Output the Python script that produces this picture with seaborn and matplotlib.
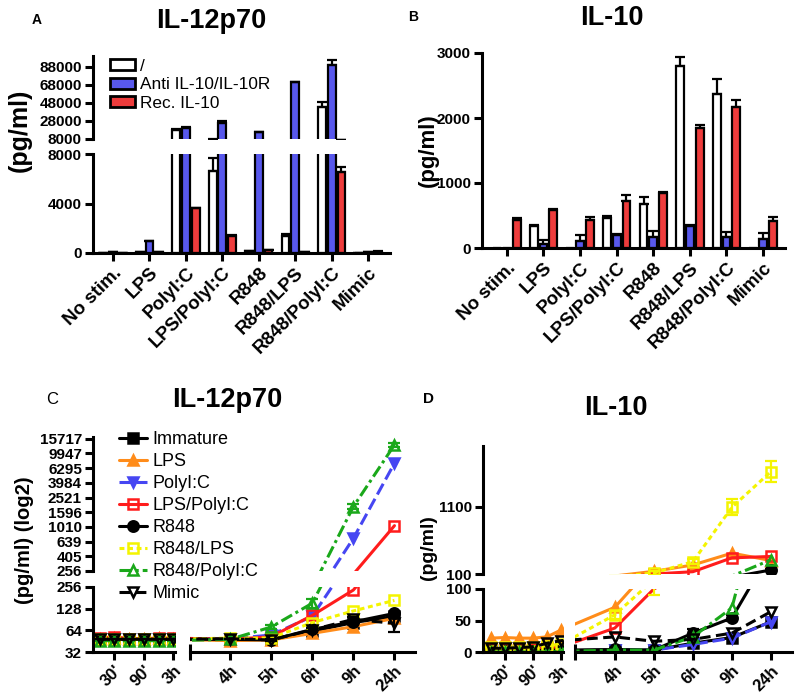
import numpy as np
import pandas as pd
import matplotlib
matplotlib.use('Agg')
import matplotlib.pyplot as plt
from matplotlib.patches import Patch
import seaborn as sns

sns.set_style('ticks')
plt.rcParams['font.family'] = ['Liberation Sans', 'DejaVu Sans']
plt.rcParams['font.weight'] = 'bold'
plt.rcParams['axes.linewidth'] = 2.2
for k in ['text.color', 'axes.edgecolor', 'axes.labelcolor', 'xtick.color', 'ytick.color']:
    plt.rcParams[k] = 'black'

# ---------------- data ----------------
stims = ['No stim.', 'LPS', 'PolyI:C', 'LPS/PolyI:C', 'R848', 'R848/LPS', 'R848/PolyI:C', 'Mimic']
treatments = ['/', 'Anti IL-10/IL-10R', 'Rec. IL-10']

# A: IL-12p70 (pg/ml)
il12_none = [30, 100, 18200, 6650, 150, 1400, 43600, 30]
il12_anti = [60, 950, 20700, 25500, 15300, 70900, 89800, 50]
il12_rec = [20, 50, 3600, 1350, 250, 100, 6540, 120]
il12_none_err = [10, 20, 600, 1000, 30, 100, 5000, 10]
il12_anti_err = [10, 60, 500, 2500, 400, 600, 6000, 10]
il12_rec_err = [10, 10, 50, 80, 30, 20, 400, 40]

# B: IL-10 (pg/ml)
il10_none = [0, 337, 0, 456, 673, 2795, 2374, 0]
il10_anti = [0, 62, 104, 207, 170, 333, 170, 144]
il10_rec = [425, 580, 430, 730, 840, 1846, 2170, 420]
il10_none_err = [0, 10, 0, 30, 110, 150, 220, 0]
il10_anti_err = [0, 60, 100, 10, 90, 20, 80, 80]
il10_rec_err = [40, 20, 50, 80, 20, 40, 100, 50]

# C / D: time course
time_labels = ['', "30'", '', "90'", '', '3h', '4h', '5h', '6h', '9h', '24h']
series = ['Immature', 'LPS', 'PolyI:C', 'LPS/PolyI:C', 'R848', 'R848/LPS', 'R848/PolyI:C', 'Mimic']

c_immature = [48, 48, 48, 48, 48, 48, 48, 48, 62, 82, 100]
c_lps = [48, 50, 48, 48, 50, 48, 46, 47, 58, 72, 94]
c_polyic = [48, 48, 48, 48, 48, 48, 49, 55, 100, 709, 7340]
c_lps_polyic = [50, 52, 49, 49, 50, 50, 48, 52, 103, 232, 1050]
c_r848 = [48, 48, 48, 48, 48, 48, 48, 47, 66, 84, 110]
c_r848_lps = [48, 48, 48, 48, 48, 48, 50, 50, 82, 119, 167]
c_r848_polyic = [46, 46, 46, 46, 46, 46, 48, 71, 152, 1900, 13000]
c_mimic = [48, 48, 48, 48, 48, 48, 49, 47, 65, 91, 80]
c_r848_polyic_err = [0, 0, 0, 0, 0, 0, 0, 4, 20, 150, 900]
c_mimic_err = [0, 0, 0, 0, 0, 0, 0, 2, 5, 6, 20]

d_immature = [2, 2, 2, 2, 2, 2, 3, 3, 14, 23, 48]
d_lps = [22, 23, 22, 22, 24, 35, 71, 140, 234, 410, 300]
d_polyic = [2, 2, 2, 2, 2, 2, 3, 3, 12, 22, 48]
d_lps_polyic = [4, 4, 5, 5, 6, 8, 38, 100, 134, 340, 360]
d_r848 = [2, 2, 2, 2, 3, 3, 4, 3, 30, 54, 160]
d_r848_lps = [8, 8, 8, 8, 10, 12, 59, 115, 283, 1090, 1620]
d_r848_polyic = [0, 0, 0, 0, 0, 1, 3, 3, 24, 70, 310]
d_mimic = [6, 6, 7, 8, 14, 18, 24, 17, 20, 30, 64]
d_r848_lps_err = [0, 0, 0, 0, 0, 0, 6, 25, 40, 120, 150]
d_r848_err = [0, 0, 0, 0, 0, 0, 0, 0, 6, 4, 8]

# ---------------- styles ----------------
bar_colors = ['white', '#5858ec', '#ee3c3c']
line_colors = ['black', '#ff8c1a', '#4646f2', '#ff1c1c', 'black', '#f4f400', '#1aa81a', 'black']
line_styles = ['-', '-', (0, (4, 1.6)), '-', '-', (0, (1.6, 1.2)), (0, (4, 1.3, 1, 1.3)), (0, (3.5, 1.8))]
markers = ['s', '^', 'v', 's', 'o', 's', '^', 'v']
filled = [True, True, True, False, True, False, False, False]

fig = plt.figure(figsize=(8, 7), dpi=100)
W, H = 800, 700


def box(x0, y0, x1, y1):
    ax = fig.add_axes([x0 / W, 1 - y1 / H, (x1 - x0) / W, (y1 - y0) / H])
    ax.patch.set_visible(False)
    return ax


def style(ax, bottom=True):
    sns.despine(ax=ax, bottom=not bottom)
    ax.tick_params(width=2.2, length=6, labelsize=11, pad=2)
    if not bottom:
        ax.tick_params(axis='x', bottom=False, labelbottom=False)
    ax.set_xlabel('')
    ax.set_ylabel('')


def bars(ax, vals, errs):
    df = pd.DataFrame({'stim': stims * 3,
                       'treat': np.repeat(treatments, len(stims)),
                       'val': np.concatenate(vals)})
    sns.barplot(data=df, x='stim', y='val', hue='treat', order=stims, hue_order=treatments,
                palette=bar_colors, saturation=1, edgecolor='black', linewidth=1.6,
                width=0.8, gap=0.2, errorbar=None, legend=False, ax=ax)
    for cont, e in zip(ax.containers, errs):
        for bar, ee in zip(cont, e):
            if ee > 0:
                ax.errorbar(bar.get_x() + bar.get_width() / 2, bar.get_height(),
                            yerr=[[0], [ee]], fmt='none', ecolor='black',
                            elinewidth=1.6, capsize=3.5, capthick=1.6)


# ---------------- panel A ----------------
a_up = box(93, 56, 390, 139)
a_lo = box(93, 154, 390, 253)
for ax in (a_up, a_lo):
    bars(ax, [il12_none, il12_anti, il12_rec], [il12_none_err, il12_anti_err, il12_rec_err])
    ax.set_xlim(-0.55, 7.6)
a_up.set_ylim(8000, 100000)
a_up.set_yticks([8000, 28000, 48000, 68000, 88000])
a_lo.set_ylim(0, 8000)
a_lo.set_yticks([0, 4000, 8000])
style(a_up, bottom=False)
style(a_lo)
a_lo.set_xticks(range(len(stims)))
a_lo.set_xticklabels(stims, rotation=45, ha='right', rotation_mode='anchor', fontsize=13.5)
handles = [Patch(facecolor=c, edgecolor='black', linewidth=2) for c in bar_colors]
a_up.legend(handles, treatments, loc='upper left', bbox_to_anchor=(110 / W, 1 - 59 / H),
            bbox_transform=fig.transFigure, frameon=False, prop=dict(size=12.4, weight='normal'),
            handlelength=1.45, handleheight=0.6, handletextpad=0.3, labelspacing=0.2,
            borderaxespad=0, borderpad=0)

# ---------------- panel B ----------------
b = box(482, 53, 785, 248)
bars(b, [il10_none, il10_anti, il10_rec], [il10_none_err, il10_anti_err, il10_rec_err])
b.set_xlim(-0.68, 7.6)
b.set_ylim(0, 3000)
b.set_yticks([0, 1000, 2000, 3000])
style(b)
b.set_xticks(range(len(stims)))
b.set_xticklabels(stims, rotation=45, ha='right', rotation_mode='anchor', fontsize=13.5)

# ---------------- time course panels ----------------
t_pos = np.concatenate([-0.38 - 0.36 * (5 - np.arange(6)), np.arange(1, 6)])
early_ticks = [1, 3, 5]
late_ticks = [6, 7, 8, 9, 10]


def lines(axes, vals_list, err_map, label_ax=None):
    # axes: list of (ax, marker range) so markers only appear in their own segment
    for ax, (lo, hi) in axes:
        for i, vals in enumerate(vals_list):
            col = line_colors[i]
            keep = [j for j, v in enumerate(vals) if lo <= v < hi]
            sns.lineplot(x=t_pos, y=vals, ax=ax, color=col, linestyle=line_styles[i],
                         linewidth=2.2, marker=markers[i], markersize=7.5, markevery=keep,
                         markeredgecolor=col, markeredgewidth=1.8,
                         markerfacecolor=col if filled[i] else 'none',
                         label=series[i] if ax is label_ax else None, legend=False)
            if i in err_map:
                ax.errorbar(t_pos, vals, yerr=err_map[i], fmt='none', ecolor=col,
                            elinewidth=1.6, capsize=4, capthick=1.6)


def time_axes(lo_l, lo_r):
    lo_l.set_xticks(t_pos[early_ticks])
    lo_l.set_xticklabels([time_labels[k] for k in early_ticks], rotation=45, ha='right',
                         rotation_mode='anchor', fontsize=12)
    lo_r.set_xticks(t_pos[late_ticks])
    lo_r.set_xticklabels([time_labels[k] for k in late_ticks], rotation=45, ha='right',
                         rotation_mode='anchor', fontsize=12)
    lo_r.spines['left'].set_visible(False)
    lo_r.tick_params(axis='y', left=False, labelleft=False)
    # small break mark at the start of the right segment
    lo_r.set_xticks([lo_r.get_xlim()[0]], minor=True)
    lo_r.tick_params(axis='x', which='minor', direction='inout', length=12, width=2.2)


# panel C
c_up = box(93, 437, 415, 571)
c_ll = box(93, 587, 175, 652)
c_lr = box(190, 587, 415, 652)
c_up.set_zorder(3)
for ax in (c_up, c_ll, c_lr):
    ax.set_yscale('log', base=2)
c_vals = [c_immature, c_lps, c_polyic, c_lps_polyic, c_r848, c_r848_lps, c_r848_polyic, c_mimic]
lines([(c_up, (256, 1e9)), (c_ll, (0, 256)), (c_lr, (0, 256))], c_vals,
      {6: c_r848_polyic_err, 7: c_mimic_err}, label_ax=c_up)
c_up.set_xlim(-2.34, 5.5)
c_ll.set_xlim(-2.34, -0.34)
c_lr.set_xlim(0.03, 5.5)
c_up.set_ylim(256, 16600)
c_up_ticks = [256, 405, 639, 1010, 1596, 2521, 3984, 6295, 9947, 15717]
c_up.set_yticks(c_up_ticks)
c_up.set_yticklabels([str(v) for v in c_up_ticks])
c_up.minorticks_off()
for ax in (c_ll, c_lr):
    ax.set_ylim(32, 256)
    ax.set_yticks([32, 64, 128, 256])
    ax.set_yticklabels(['32', '64', '128', '256'])
    ax.minorticks_off()
style(c_up, bottom=False)
style(c_ll)
style(c_lr)
time_axes(c_ll, c_lr)
c_up.legend(loc='upper left', bbox_to_anchor=(119 / W, 1 - 431 / H), bbox_transform=fig.transFigure,
            frameon=False, prop=dict(size=13, weight='normal'), handlelength=1.55,
            handletextpad=0.3, labelspacing=0.28, borderaxespad=0, borderpad=0)

# panel D
d_up = box(483, 446, 792, 574)
d_ll = box(483, 589, 563, 652)
d_lr = box(575, 589, 792, 652)
d_vals = [d_immature, d_lps, d_polyic, d_lps_polyic, d_r848, d_r848_lps, d_r848_polyic, d_mimic]
lines([(d_up, (100, 1e9)), (d_ll, (-1, 100)), (d_lr, (-1, 100))], d_vals,
      {5: d_r848_lps_err, 4: d_r848_err})
d_up.set_xlim(-2.38, 5.54)
d_ll.set_xlim(-2.38, -0.33)
d_lr.set_xlim(-0.02, 5.54)
d_up.set_ylim(100, 2000)
d_up.set_yticks([100, 1100])
for ax in (d_ll, d_lr):
    ax.set_ylim(0, 100)
    ax.set_yticks([0, 50, 100])
style(d_up, bottom=False)
style(d_ll)
style(d_lr)
time_axes(d_ll, d_lr)

# ---------------- text ----------------
fig.text(211 / W, 1 - 21 / H, 'IL-12p70', fontsize=19.5, ha='center', va='center')
fig.text(612 / W, 1 - 18 / H, 'IL-10', fontsize=19.5, ha='center', va='center')
fig.text(227 / W, 1 - 400 / H, 'IL-12p70', fontsize=19.5, ha='center', va='center')
fig.text(616 / W, 1 - 408 / H, 'IL-10', fontsize=19.5, ha='center', va='center')
fig.text(37 / W, 1 - 20 / H, 'A', fontsize=10, ha='center', va='center')
fig.text(413 / W, 1 - 17 / H, 'B', fontsize=10, ha='center', va='center')
fig.text(52 / W, 1 - 400 / H, 'C', fontsize=12, weight='normal', ha='center', va='center')
fig.text(428 / W, 1 - 399 / H, 'D', fontsize=11, ha='center', va='center')
fig.text(20 / W, 1 - 130 / H, '(pg/ml)', fontsize=18, rotation=90, ha='center', va='center')
fig.text(428 / W, 1 - 150 / H, '(pg/ml)', fontsize=16, rotation=90, ha='center', va='center')
fig.text(25 / W, 1 - 540 / H, '(pg/ml) (log2)', fontsize=14.5, rotation=90, ha='center', va='center')
fig.text(428 / W, 1 - 548 / H, '(pg/ml)', fontsize=14, rotation=90, ha='center', va='center')

fig.savefig('out.png', dpi=100)
